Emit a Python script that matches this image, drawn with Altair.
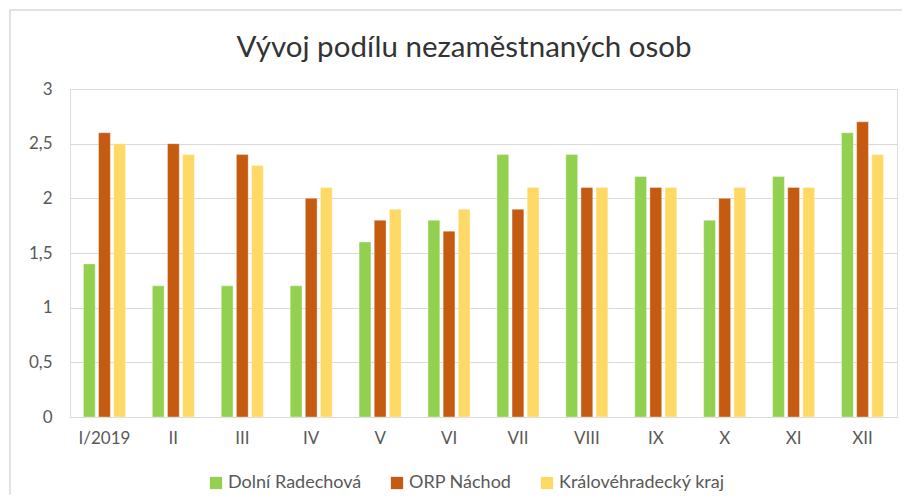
import altair as alt
import pandas as pd

months = ["I/2019", "II", "III", "IV", "V", "VI", "VII", "VIII", "IX", "X", "XI", "XII"]
series = ["Dolní Radechová", "ORP Náchod", "Královéhradecký kraj"]
colors = ["#92D050", "#C55A11", "#FFD966"]
dolni = [1.4, 1.2, 1.2, 1.2, 1.6, 1.8, 2.4, 2.4, 2.2, 1.8, 2.2, 2.6]
orp = [2.6, 2.5, 2.4, 2.0, 1.8, 1.7, 1.9, 2.1, 2.1, 2.0, 2.1, 2.7]
kraj = [2.5, 2.4, 2.3, 2.1, 1.9, 1.9, 2.1, 2.1, 2.1, 2.1, 2.1, 2.4]
title_text = "Vývoj podílu nezaměstnaných osob"

rows = []
for s, vals in zip(series, [dolni, orp, kraj]):
    for m, v in zip(months, vals):
        rows.append({"mesic": m, "rada": s, "hodnota": v})
df = pd.DataFrame(rows)

FONT = "Lato"

bars = alt.Chart(df).mark_bar(stroke="white", strokeWidth=0.6, strokeOpacity=0.6).encode(
    x=alt.X("mesic:N", sort=months, title=None,
            scale=alt.Scale(paddingInner=0.39, paddingOuter=0.195),
            axis=alt.Axis(labelAngle=0, labelFontSize=17, labelColor="#595959", labelFont=FONT,
                          labelPadding=13, ticks=False, domain=True, domainColor="#d9d9d9",
                          domainWidth=1.2, grid=False)),
    xOffset=alt.XOffset("rada:N", sort=series, scale=alt.Scale(paddingInner=0.22, paddingOuter=0)),
    y=alt.Y("hodnota:Q", title=None,
            scale=alt.Scale(domain=[0, 3], nice=False),
            axis=alt.Axis(values=[0, 0.5, 1, 1.5, 2, 2.5, 3], labelFontSize=17, labelColor="#595959",
                          labelFont=FONT, labelPadding=18, ticks=False, domain=False,
                          gridColor="#d9d9d9", gridWidth=1.2,
                          labelExpr="replace(format(datum.value, '~g'), '.', ',')")),
    color=alt.Color("rada:N", sort=series, title=None,
                    scale=alt.Scale(domain=series, range=colors),
                    legend=alt.Legend(orient="none", legendX=137, legendY=385,
                                      direction="horizontal", symbolType="square",
                                      symbolSize=150, symbolStrokeWidth=0, labelFontSize=18,
                                      labelColor="#595959", labelFont=FONT, columnPadding=26,
                                      labelLimit=400, symbolOffset=0, labelOffset=3)),
)

one = pd.DataFrame({"t": [title_text]})
frame = alt.Chart(one).mark_rect(fill=None, stroke="#d9d9d9", strokeWidth=1.5, clip=False).encode(
    x=alt.value(-60), x2=alt.value(860), y=alt.value(-79), y2=alt.value(440)
)
title = alt.Chart(one).mark_text(font=FONT, fontSize=29.5, color="#333333", baseline="middle",
                                 align="center").encode(
    text="t:N", x=alt.value(394), y=alt.value(-41)
)

chart = alt.layer(frame, bars, title).properties(
    width=827, height=328,
    autosize=alt.AutoSizeParams(type="none"),
    padding={"left": 62, "top": 81, "right": 5, "bottom": 78},
).configure_view(stroke=None).configure(background="white")

chart.save("out.html", embed_options={"renderer": "svg", "actions": False})
